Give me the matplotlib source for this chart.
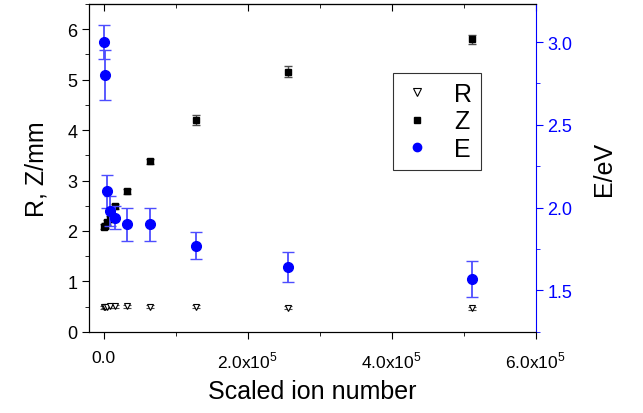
import matplotlib
matplotlib.use("Agg")
import matplotlib.pyplot as plt
from matplotlib.lines import Line2D
from matplotlib.ticker import MultipleLocator, FuncFormatter

plt.rcParams['font.family'] = ['Liberation Sans', 'DejaVu Sans']
plt.rcParams['mathtext.fontset'] = 'custom'
plt.rcParams['mathtext.rm'] = 'Liberation Sans'

# data
ion_number = [1000, 2000, 4000, 8000, 16000, 32000, 64000, 128000, 256000, 512000]
R = [0.49, 0.50, 0.50, 0.51, 0.51, 0.51, 0.50, 0.50, 0.48, 0.47]
R_err = [0.03, 0.03, 0.03, 0.03, 0.03, 0.03, 0.03, 0.03, 0.03, 0.03]
Z = [2.08, 2.10, 2.17, 2.24, 2.49, 2.79, 3.38, 4.20, 5.16, 5.80]
Z_err = [0.05, 0.05, 0.05, 0.05, 0.05, 0.05, 0.05, 0.10, 0.11, 0.09]
E = [3.00, 2.80, 2.10, 1.98, 1.94, 1.90, 1.90, 1.77, 1.64, 1.57]
E_err = [0.10, 0.15, 0.10, 0.09, 0.07, 0.10, 0.10, 0.08, 0.09, 0.11]

fig = plt.figure(figsize=(6.43, 4.14), dpi=100)
ax = fig.add_axes([0.139, 0.196, 0.694, 0.792])
ax2 = ax.twinx()

#left axis: R and Z
ax.errorbar(ion_number, R, yerr=R_err, fmt='v', color='black', mfc='white', mec='black',
            ms=5, mew=0.8, ecolor='0.3', elinewidth=1, capsize=3)
ax.errorbar(ion_number, Z, yerr=Z_err, fmt='s', color='black', ms=5,
            ecolor='0.3', elinewidth=1, capsize=3)

#right axis: E
ax2.errorbar(ion_number, E, yerr=E_err, fmt='o', color='blue', ms=7,
             ecolor=(0.3, 0.3, 1.0), elinewidth=1.3, capsize=4)

ax.set_xlim(-2e4, 6e5)
ax.set_ylim(0, 6.5)
ax2.set_ylim(1.25, 3.23)

ax.xaxis.set_major_locator(MultipleLocator(2e5))
ax.xaxis.set_minor_locator(MultipleLocator(1e5))
ax.yaxis.set_major_locator(MultipleLocator(1))
ax.yaxis.set_minor_locator(MultipleLocator(0.5))
ax2.yaxis.set_major_locator(MultipleLocator(0.5))
ax2.yaxis.set_minor_locator(MultipleLocator(0.25))

def sci_fmt(v, pos):
    if v == 0:
        return "0.0"
    exp = 5
    return "%.1fx10$^{%d}$" % (v / 10**exp, exp)

ax.xaxis.set_major_formatter(FuncFormatter(sci_fmt))
ax2.yaxis.set_major_formatter(FuncFormatter(lambda v, p: "%.1f" % v))

ax.tick_params(axis='x', which='both', direction='out', labelsize=12.5, pad=8)
ax.tick_params(axis='x', which='major', length=5)
ax.tick_params(axis='x', which='minor', length=3)
ax.tick_params(axis='y', which='both', direction='out', labelsize=13, right=False)
ax.tick_params(axis='y', which='major', length=5)
ax.tick_params(axis='y', which='minor', length=3)
ax2.tick_params(axis='y', which='both', colors='blue', labelsize=13, direction='out')
ax2.tick_params(axis='y', which='major', length=5)
ax2.tick_params(axis='y', which='minor', length=3)

# inward ticks on the top edge
top = ax.secondary_xaxis('top')
top.xaxis.set_major_locator(MultipleLocator(2e5))
top.xaxis.set_minor_locator(MultipleLocator(1e5))
top.tick_params(axis='x', which='both', direction='in', labeltop=False)
top.tick_params(axis='x', which='major', length=5)
top.tick_params(axis='x', which='minor', length=3)

ax2.spines['right'].set_color('blue')
ax.spines['right'].set_visible(False)

ax.set_xlabel("Scaled ion number", fontsize=18, labelpad=6)
ax.set_ylabel("R, Z/mm", fontsize=18, labelpad=14)
ax2.set_ylabel("E/eV", fontsize=18, labelpad=14)

handles = [
    Line2D([], [], ls='none', marker='v', mfc='white', mec='black', ms=6, mew=0.8),
    Line2D([], [], ls='none', marker='s', color='black', ms=5),
    Line2D([], [], ls='none', marker='o', color='blue', ms=6),
]
leg = ax2.legend(handles, ['R', 'Z', 'E'], loc='upper left', bbox_to_anchor=(0.68, 0.79),
                 fontsize=18, frameon=True, fancybox=False, edgecolor='black',
                 handlelength=1.2, handletextpad=0.9, labelspacing=0.15, borderpad=0.35,
                 borderaxespad=0)
leg.get_frame().set_linewidth(0.8)

fig.savefig("out.png", dpi=100)
